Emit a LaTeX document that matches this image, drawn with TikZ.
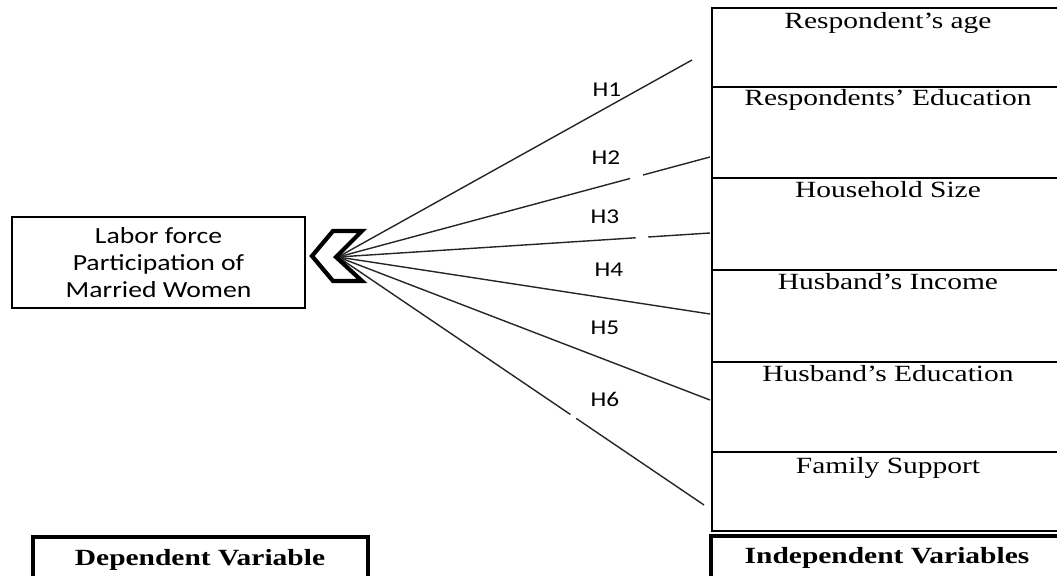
\documentclass[tikz,border=0pt]{standalone}
\usepackage{fontspec}
\setmainfont[FakeStretch=1.27]{Liberation Serif}
\newfontfamily\calibri[FakeStretch=1.2]{Carlito}
\usetikzlibrary{calc}

\begin{document}
\begin{tikzpicture}[x=0.025cm, y=-0.025cm]
\tikzstyle{hypstyle}=[inner sep=0pt, font=\calibri\fontsize{15}{18}\selectfont]
\tikzstyle{varstyle}=[anchor=base, inner sep=0pt, font=\fontsize{16.5}{19}\selectfont]
\tikzstyle{headstyle}=[anchor=base, inner sep=0pt, font=\bfseries\fontsize{16.5}{19}\selectfont]
\tikzstyle{linkstyle}=[line width=1pt, black!85]
\tikzstyle{boldbox}=[line width=2.8pt]
    \useasboundingbox (0,0) rectangle (1057,576);
    \clip (0,0) rectangle (1057,576);
    \node[draw, line width=1.1pt, minimum width=7.325cm, minimum height=2.275cm, align=center, font=\calibri\fontsize{16.4}{19.2}\selectfont] (lfp) at (158.5,262.5) {Labor force\\Participation of\\Married Women};
    \draw[line width=1.1pt] (712,8) rectangle (1080,531);
    \draw[line width=1.1pt] (712,87) -- (1080,87);
    \draw[line width=1.1pt] (712,178) -- (1080,178);
    \draw[line width=1.1pt] (712,270) -- (1080,270);
    \draw[line width=1.1pt] (712,362) -- (1080,362);
    \draw[line width=1.1pt] (712,452) -- (1080,452);
    \node[varstyle] (age) at (888,29) {Respondent's age};
    \node[varstyle] (edu) at (888,106) {Respondents' Education};
    \node[varstyle] (hsize) at (888,198) {Household Size};
    \node[varstyle] (hinc) at (888,290) {Husband's Income};
    \node[varstyle] (hedu) at (888,382) {Husband's Education};
    \node[varstyle] (fsup) at (888,473) {Family Support};
    \coordinate (hub) at (338,257);
    \coordinate (e1) at (692,60);
    \coordinate (e2) at (710,157);
    \coordinate (e3) at (710,233);
    \coordinate (e4) at (710,314);
    \coordinate (e5) at (710,400);
    \coordinate (e6) at (704,505);
    \draw[linkstyle] (hub) -- (e1);
    \draw[linkstyle] (hub) -- ($(hub)!0.785!(e2)$) ($(hub)!0.82!(e2)$) -- (e2);
    \draw[linkstyle] (hub) -- ($(hub)!0.80!(e3)$) ($(hub)!0.834!(e3)$) -- (e3);
    \draw[linkstyle] (hub) -- (e4);
    \draw[linkstyle] (hub) -- (e5);
    \draw[linkstyle] (hub) -- ($(hub)!0.635!(e6)$) ($(hub)!0.651!(e6)$) -- (e6);
    \draw[line width=3pt, fill=white, miter limit=10] (333,231) -- (362,231) -- (336,257) -- (362,281) -- (333,281) -- (312,256) -- cycle;
    \node[hypstyle] (h1) at (607,90) {H1};
    \node[hypstyle] (h2) at (606,158) {H2};
    \node[hypstyle] (h3) at (605,217) {H3};
    \node[hypstyle] (h4) at (609,270) {H4};
    \node[hypstyle] (h5) at (605,328) {H5};
    \node[hypstyle] (h6) at (605,399) {H6};
    \draw[boldbox] (33,537) rectangle (368,610);
    \node[headstyle] (depvar) at (200,565) {Dependent Variable};
    \draw[boldbox] (711,536) rectangle (1080,610);
    \node[headstyle] (indvar) at (887,563) {Independent Variables};
\end{tikzpicture}
\end{document}
